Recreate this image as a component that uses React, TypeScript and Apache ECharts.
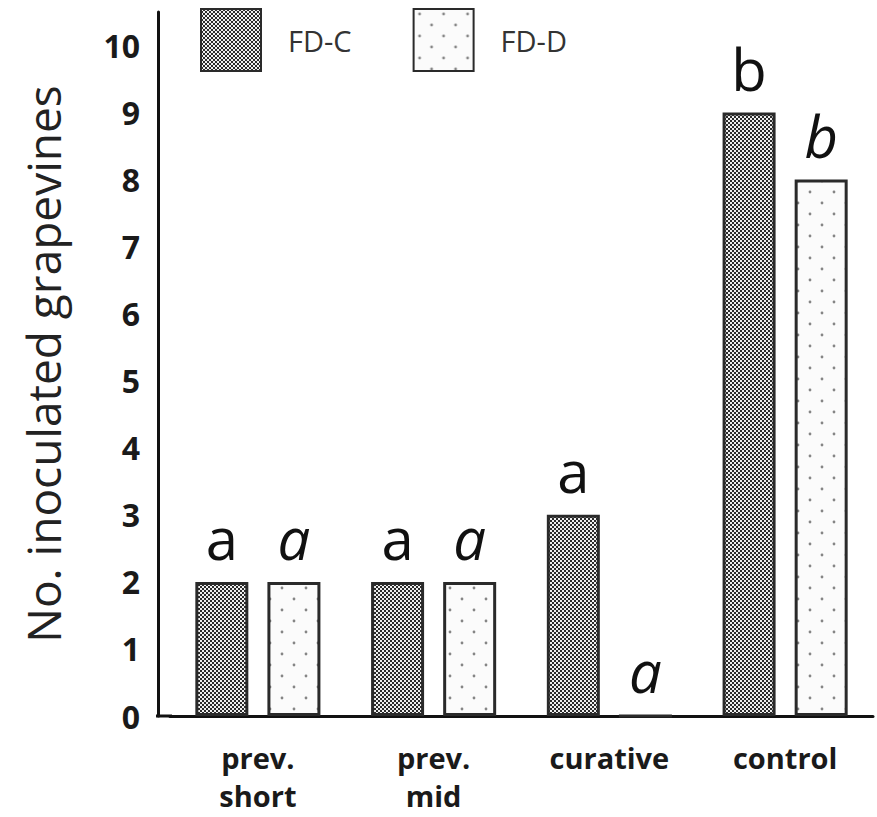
import React, { useEffect, useRef } from 'react';
import * as echarts from 'echarts';

const categories = ['prev.\nshort', 'prev.\nmid', 'curative', 'control'];
const seriesNames = ['FD-C', 'FD-D'];
const fdcValues = [2, 2, 3, 9];
const fddValues = [2, 2, 0, 8];
const fdcLetters = ['a', 'a', 'a', 'b'];
const fddLetters = ['a', 'a', 'a', 'b'];
const yTickLabels = ['0', '1', '2', '3', '4', '5', '6', '7', '8', '9', '10'];

function makeChecker(): HTMLCanvasElement {
  const c = document.createElement('canvas');
  c.width = 4;
  c.height = 4;
  const ctx = c.getContext('2d')!;
  ctx.fillStyle = '#efefef';
  ctx.fillRect(0, 0, 4, 4);
  ctx.fillStyle = '#2b2b2b';
  ctx.fillRect(2, 0, 2, 2);
  ctx.fillRect(0, 2, 2, 2);
  return c;
}

function makeDots(): HTMLCanvasElement {
  const c = document.createElement('canvas');
  c.width = 24;
  c.height = 22;
  const ctx = c.getContext('2d')!;
  ctx.fillStyle = '#fbfbfb';
  ctx.fillRect(0, 0, 24, 22);
  ctx.fillStyle = '#858585';
  ctx.beginPath();
  ctx.arc(6, 5, 1.4, 0, Math.PI * 2);
  ctx.fill();
  ctx.beginPath();
  ctx.arc(18, 16, 1.4, 0, Math.PI * 2);
  ctx.fill();
  return c;
}

const FONT = '"Open Sans", "Noto Sans", sans-serif';

export default function App() {
  const ref = useRef<HTMLDivElement>(null);
  useEffect(() => {
    document.body.style.margin = '0';
    if (!ref.current) return;
    const chart = echarts.init(ref.current, null, { renderer: 'svg' });
    const checker = makeChecker();
    const dots = makeDots();
    const labelBase = {
      show: true,
      position: 'top' as const,
      distance: 15,
      fontFamily: FONT,
      fontSize: 58,
      color: '#111',
    };
    chart.setOption({
      animation: false,
      backgroundColor: '#ffffff',
      grid: { left: 170, right: 4, top: 12, bottom: 101 },
      legend: {
        left: 200,
        top: 8,
        padding: 0,
        itemWidth: 60,
        itemHeight: 62,
        itemGap: 61,
        icon: 'rect',
        data: seriesNames,
        textStyle: {
          fontFamily: FONT,
          fontSize: 29,
          color: '#333',
          padding: [0, 0, 0, 22],
        },
      },
      xAxis: {
        type: 'category',
        data: categories,
        axisLine: { show: true, lineStyle: { color: '#111', width: 3 } },
        axisTick: { show: false },
        axisLabel: {
          fontFamily: FONT,
          fontWeight: 'bold',
          fontSize: 29,
          color: '#1a1a1a',
          margin: 22,
          lineHeight: 38,
          verticalAlign: 'top',
        },
      },
      yAxis: {
        type: 'value',
        min: 0,
        max: 10.5,
        interval: 1,
        offset: 12,
        name: 'No. inoculated grapevines',
        nameLocation: 'middle',
        nameGap: 92,
        nameTextStyle: { fontFamily: FONT, fontSize: 46, color: '#222' },
        axisLine: { show: true, lineStyle: { color: '#111', width: 3 } },
        axisTick: { show: false },
        splitLine: { show: false },
        axisLabel: {
          showMaxLabel: false,
          fontFamily: FONT,
          fontWeight: 'bold',
          fontSize: 32,
          color: '#1a1a1a',
          margin: 18,
          formatter: (v: number) => (Number.isInteger(v) ? yTickLabels[v] : ''),
        },
      },
      graphic: [
        {
          type: 'rect',
          left: 156,
          bottom: 99.5,
          shape: { width: 16, height: 3 },
          style: { fill: '#111' },
        },
      ],
      series: [
        {
          name: seriesNames[0],
          type: 'bar',
          data: fdcValues,
          barWidth: 53,
          barGap: '36%',
          itemStyle: {
            color: { image: checker, repeat: 'repeat' },
            borderColor: '#2a2a2a',
            borderWidth: 3,
          },
          label: {
            ...labelBase,
            formatter: (p: any) => fdcLetters[p.dataIndex],
          },
        },
        {
          name: seriesNames[1],
          type: 'bar',
          data: fddValues,
          barWidth: 53,
          barGap: '36%',
          itemStyle: {
            color: { image: dots, repeat: 'repeat' },
            borderColor: '#2a2a2a',
            borderWidth: 3,
          },
          label: {
            ...labelBase,
            fontStyle: 'italic',
            formatter: (p: any) => fddLetters[p.dataIndex],
          },
        },
      ],
    });
    return () => chart.dispose();
  }, []);
  return <div ref={ref} style={{ width: 877, height: 817 }} />;
}
